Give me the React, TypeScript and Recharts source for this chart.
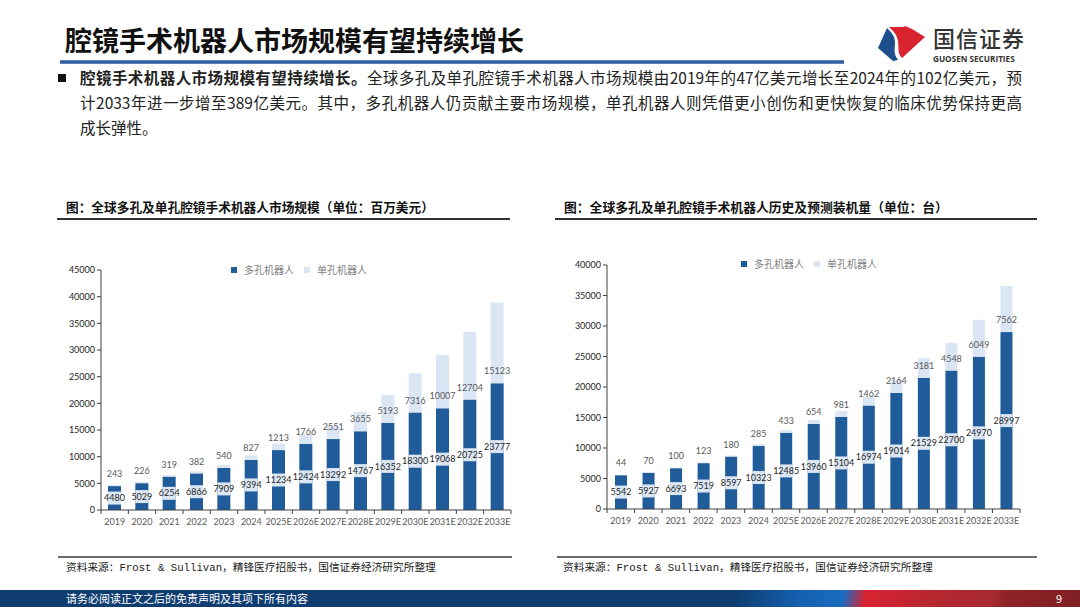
import React from 'react'
import { BarChart, Bar, XAxis, YAxis, LabelList } from 'recharts'

// categories & values
const years = ['2019', '2020', '2021', '2022', '2023', '2024', '2025E', '2026E', '2027E', '2028E', '2029E', '2030E', '2031E', '2032E', '2033E']
const seriesNames = ['多孔机器人', '单孔机器人']

const marketMulti = [4480, 5029, 6254, 6866, 7909, 9394, 11234, 12424, 13292, 14767, 16352, 18300, 19068, 20725, 23777]
const marketSingle = [243, 226, 319, 382, 540, 827, 1213, 1766, 2551, 3655, 5193, 7316, 10007, 12704, 15123]
const marketTicks = [0, 5000, 10000, 15000, 20000, 25000, 30000, 35000, 40000, 45000]

const installMulti = [5542, 5927, 6693, 7519, 8597, 10323, 12485, 13960, 15104, 16974, 19014, 21529, 22700, 24970, 28997]
const installSingle = [44, 70, 100, 123, 180, 285, 433, 654, 981, 1462, 2164, 3181, 4548, 6049, 7562]
const installTicks = [0, 5000, 10000, 15000, 20000, 25000, 30000, 35000, 40000]

const DARK = '#1f5c99'
const LIGHT = '#dbe6f4'
const AXIS = '#404040'
const NUM_FONT = 'Lato, "Noto Sans CJK SC", sans-serif'
const CJK = '"Noto Sans CJK SC", sans-serif'

const Y_W = 52
const MARGIN = { top: 15, right: 10, left: 0, bottom: 5 }
const TICK_SIZE = 4
const TICK_MARGIN = 5

const XTick = (props: any) => {
  const { x, y, payload, index, band } = props
  const axisY = y - TICK_SIZE - TICK_MARGIN
  const last = index === years.length - 1
  return (
    <g>
      <line x1={x - band / 2} x2={x - band / 2} y1={axisY} y2={axisY + TICK_SIZE} stroke={AXIS} />
      {last && <line x1={x + band / 2} x2={x + band / 2} y1={axisY} y2={axisY + TICK_SIZE} stroke={AXIS} />}
      <text x={x} y={y} dy="0.71em" textAnchor="middle" fill="#595959" fontSize={9} fontFamily={NUM_FONT}>
        {payload.value}
      </text>
    </g>
  )
}

// dark series: value sits in a light band across the middle of the bar
const MidLabel = (props: any) => {
  const { x, y, width, height, value } = props
  const cy = y + height / 2
  return (
    <g>
      <rect x={x} y={cy - 6.5} width={width} height={13} fill={LIGHT} />
      <text x={x + width / 2} y={cy} dy="0.35em" textAnchor="middle" fill="#262626" fontSize={9} fontFamily={NUM_FONT}>
        {value}
      </text>
    </g>
  )
}

// light series: value sits just above the base of its own segment
const BaseLabel = (props: any) => {
  const { x, y, width, height, value } = props
  return (
    <text x={x + width / 2} y={y + height - 12} dy="0.35em" textAnchor="middle" fill="#595959" fontSize={9} fontFamily={NUM_FONT}>
      {value}
    </text>
  )
}

interface ChartProps {
  multi: number[]
  single: number[]
  ticks: number[]
  width: number
  height: number
  barSize: number
}

const StackedChart: React.FC<ChartProps> = ({ multi, single, ticks, width, height, barSize }) => {
  const data = years.map((year, i) => ({ year, multi: multi[i], single: single[i] }))
  const band = (width - Y_W - MARGIN.right) / years.length
  return (
    <BarChart width={width} height={height} data={data} margin={MARGIN} barSize={barSize}>
      <XAxis
        dataKey="year"
        interval={0}
        height={22}
        axisLine={{ stroke: AXIS }}
        tickLine={false}
        tickSize={TICK_SIZE}
        tickMargin={TICK_MARGIN}
        tick={<XTick band={band} />}
      />
      <YAxis
        width={Y_W}
        ticks={ticks}
        domain={[0, ticks[ticks.length - 1]]}
        interval={0}
        axisLine={{ stroke: AXIS }}
        tickLine={{ stroke: AXIS }}
        tickSize={TICK_SIZE}
        tickMargin={2}
        tick={{ fill: '#262626', fontSize: 9, fontFamily: NUM_FONT }}
      />
      <Bar dataKey="multi" stackId="s" fill={DARK} isAnimationActive={false}>
        <LabelList dataKey="multi" content={MidLabel} />
      </Bar>
      <Bar dataKey="single" stackId="s" fill={LIGHT} isAnimationActive={false}>
        <LabelList dataKey="single" content={BaseLabel} />
      </Bar>
    </BarChart>
  )
}

const LegendBox: React.FC<{ left: number; top: number }> = ({ left, top }) => (
  <div style={{ position: 'absolute', left, top, display: 'flex', alignItems: 'center', fontFamily: CJK, fontSize: 10, color: '#7f7f7f', lineHeight: '12px', whiteSpace: 'nowrap' }}>
    {seriesNames.map((name, i) => (
      <div key={name} style={{ display: 'flex', alignItems: 'center', marginRight: 10 }}>
        <span style={{ width: 6, height: 6, background: i === 0 ? DARK : LIGHT, marginRight: 7, display: 'inline-block' }} />
        {name}
      </div>
    ))}
  </div>
)

const Logo = () => (
  <svg width={52} height={40} viewBox="0 0 52 40" style={{ position: 'absolute', left: 876, top: 24 }}>
    <path d="M2,24 L11,4 C15,8 19,12 19,18 C19,25 17,29 22,36 L17,37 Z" fill="#1d4f8f" />
    <path d="M13,3 L27,3 L29,2 L36,5 L49,13 L26,34 C21,29 23,24 22,17 C21,10 17,7 13,3 Z" fill="#d9232e" />
  </svg>
)

export default function App() {
  const lineStyle = { textAlign: 'justify' as const, textAlignLast: 'justify' as const, width: 942 }
  const sourceStyle = { position: 'absolute' as const, top: 561, fontSize: 10.7, color: '#222', whiteSpace: 'nowrap' as const, lineHeight: '14px', fontFamily: '"Liberation Mono", "Noto Sans CJK SC", monospace' }
  return (
    <div style={{ position: 'absolute', left: 0, top: 0, width: 1080, height: 607, background: '#fff', overflow: 'hidden', fontFamily: CJK }}>
      <div style={{ position: 'absolute', left: 65, top: 26, fontSize: 27, fontWeight: 700, color: '#111', lineHeight: 1, whiteSpace: 'nowrap' }}>
        腔镜手术机器人市场规模有望持续增长
      </div>
      <div style={{ position: 'absolute', left: 60, top: 60, width: 784, height: 4, background: 'linear-gradient(#7096c6, #1d4f8f 50%, #7096c6)' }} />
      <Logo />
      <div style={{ position: 'absolute', left: 933, top: 26, fontSize: 22, fontWeight: 500, color: '#333', lineHeight: 1, letterSpacing: 1, whiteSpace: 'nowrap' }}>国信证券</div>
      <div style={{ position: 'absolute', left: 933, top: 53, fontSize: 8.2, fontWeight: 700, color: '#333', fontFamily: '"Open Sans", sans-serif', whiteSpace: 'nowrap' }}>GUOSEN SECURITIES</div>

      <div style={{ position: 'absolute', left: 58, top: 74, width: 8, height: 8, background: '#111' }} />
      <div style={{ position: 'absolute', left: 80, top: 65, fontSize: 15.5, lineHeight: '25px', color: '#222' }}>
        <div style={lineStyle}>
          <b>腔镜手术机器人市场规模有望持续增长。</b>全球多孔及单孔腔镜手术机器人市场规模由2019年的47亿美元增长至2024年的102亿美元，预
        </div>
        <div style={lineStyle}>
          计2033年进一步增至389亿美元。其中，多孔机器人仍贡献主要市场规模，单孔机器人则凭借更小创伤和更快恢复的临床优势保持更高
        </div>
        <div>成长弹性。</div>
      </div>

      <div style={{ position: 'absolute', left: 66, top: 198, fontSize: 12.7, fontWeight: 700, color: '#111', whiteSpace: 'nowrap', lineHeight: '18px' }}>
        图：全球多孔及单孔腔镜手术机器人市场规模（单位：百万美元）
      </div>
      <div style={{ position: 'absolute', left: 57, top: 218, width: 453, height: 1.5, background: '#333' }} />
      <div style={{ position: 'absolute', left: 564, top: 198, fontSize: 12.8, fontWeight: 700, color: '#111', whiteSpace: 'nowrap', lineHeight: '18px' }}>
        图：全球多孔及单孔腔镜手术机器人历史及预测装机量（单位：台）
      </div>
      <div style={{ position: 'absolute', left: 555, top: 218, width: 482, height: 1.5, background: '#333' }} />

      <div style={{ position: 'absolute', left: 49, top: 255 }}>
        <StackedChart multi={marketMulti} single={marketSingle} ticks={marketTicks} width={472} height={282} barSize={13} />
      </div>
      <LegendBox left={231} top={264} />

      <div style={{ position: 'absolute', left: 555, top: 250 }}>
        <StackedChart multi={installMulti} single={installSingle} ticks={installTicks} width={475} height={286} barSize={12} />
      </div>
      <LegendBox left={741} top={258} />

      <div style={{ position: 'absolute', left: 58, top: 556, width: 454, height: 2, background: '#6b6b6b' }} />
      <div style={{ position: 'absolute', left: 557, top: 556, width: 480, height: 2, background: '#6b6b6b' }} />
      <div style={{ ...sourceStyle, left: 66 }}>资料来源：Frost &amp; Sullivan，精锋医疗招股书，国信证券经济研究所整理</div>
      <div style={{ ...sourceStyle, left: 563 }}>资料来源：Frost &amp; Sullivan，精锋医疗招股书，国信证券经济研究所整理</div>

      <div style={{ position: 'absolute', left: 0, top: 590, width: 1080, height: 17, background: 'linear-gradient(100deg, #0f3d70 0%, #0f3d70 68%, #1560b0 74%, #1a6bc0 78%, #d92231 80%, #b8272f 86%, #a52a30 92%, #8e2226 93%, #7f1f24 100%)' }} />
      <div style={{ position: 'absolute', left: 66, top: 591, fontSize: 11, color: '#fff', lineHeight: '15px', whiteSpace: 'nowrap' }}>
        请务必阅读正文之后的免责声明及其项下所有内容
      </div>
      <div style={{ position: 'absolute', left: 1056, top: 591, fontSize: 11, color: '#fff', lineHeight: '15px' }}>9</div>
    </div>
  )
}
